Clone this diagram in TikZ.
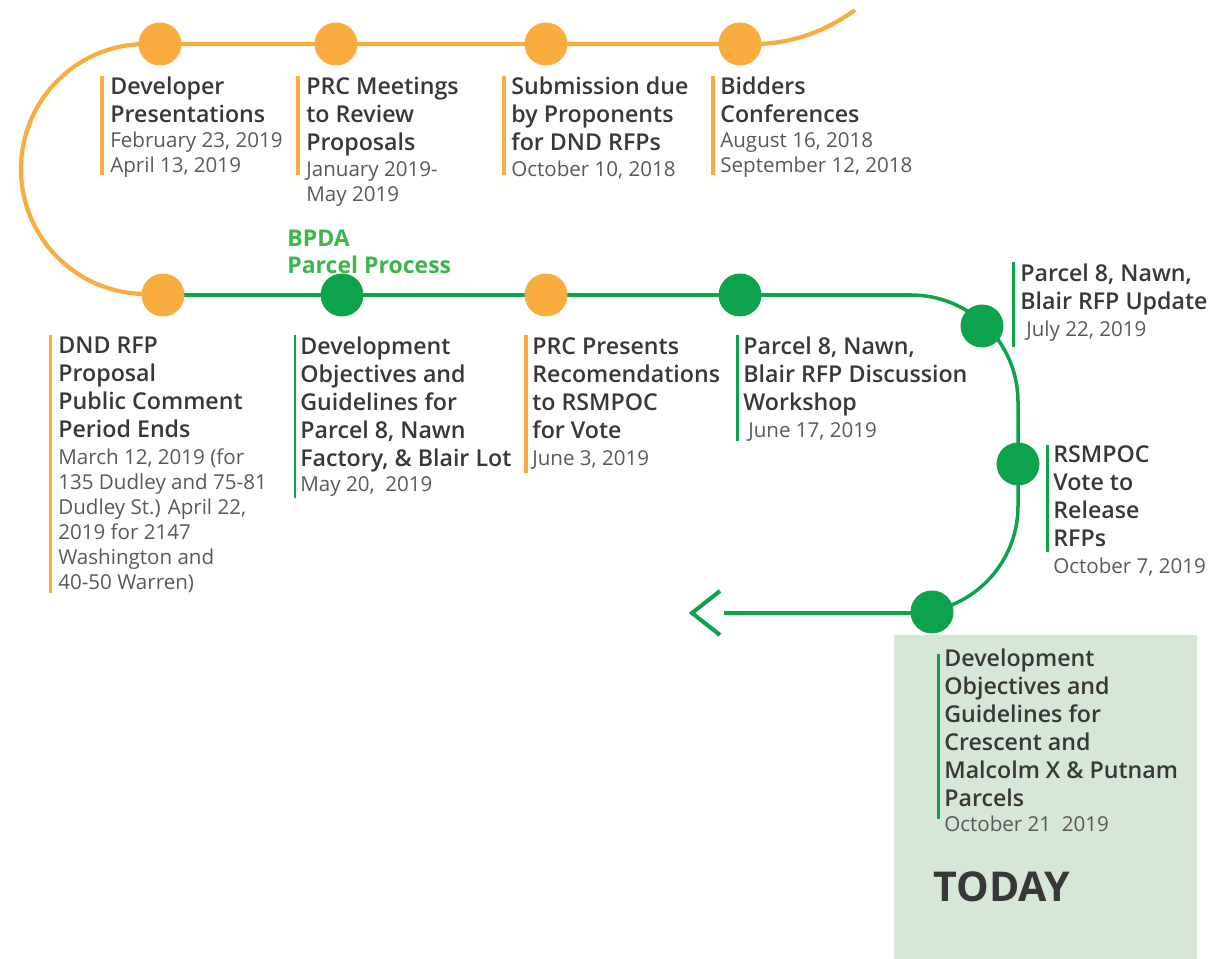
\documentclass[tikz,border=0pt]{standalone}
\usepackage{fontspec}
\setmainfont{Open Sans}
\IfFontExistsTF{Open Sans Semibold}{\newfontfamily\titlefont{Open Sans Semibold}}{%
  \IfFontExistsTF{Open Sans SemiBold}{\newfontfamily\titlefont{Open Sans SemiBold}}{\newcommand\titlefont{\bfseries}}}
\usetikzlibrary{arrows.meta, backgrounds}
\definecolor{parcelorange}{HTML}{F9AD3E}
\definecolor{parcelgreen}{HTML}{0DA24C}
\definecolor{labelgreen}{HTML}{3CB54A}
\definecolor{todaybox}{HTML}{D6E6D7}
\definecolor{titlegray}{HTML}{383838}
\definecolor{dategray}{HTML}{595959}
\tikzset{
  ostop/.style={circle, fill=parcelorange, minimum size=0.86cm, inner sep=0pt},
  gstop/.style={circle, fill=parcelgreen, minimum size=0.86cm, inner sep=0pt},
  oline/.style={parcelorange, line width=2.4pt},
  gline/.style={parcelgreen, line width=2pt},
  obar/.style={parcelorange, line width=2.2pt},
  gbar/.style={parcelgreen, line width=1.7pt},
  ttl/.style={anchor=north west, inner sep=0pt, align=left, text=titlegray,
    font=\titlefont\fontsize{13.2}{15.93}\selectfont},
  dte/.style={anchor=north west, inner sep=0pt, align=left, text=dategray,
    font=\fontsize{11.7}{14.23}\selectfont}
}
\begin{document}
\begin{tikzpicture}[x=0.02cm, y=-0.02cm]
    \useasboundingbox (0,0) rectangle (1210,959);

    \fill[todaybox] (894,635) rectangle (1197,959);

    % stops
    \node[ostop] (dev) at (160,44) {};
    \node[ostop] (prc) at (336,44) {};
    \node[ostop] (sub) at (546,44) {};
    \node[ostop] (bid) at (740,44) {};
    \node[ostop] (dnd) at (163,295) {};
    \node[gstop] (obj) at (342,295) {};
    \node[ostop] (rec) at (546,295) {};
    \node[gstop] (wrk) at (740,295) {};
    \node[gstop] (upd) at (982,326) {};
    \node[gstop] (vot) at (1018,464) {};
    \node[gstop] (tdy) at (932,612) {};

    \coordinate (otop) at (855,10);
    \coordinate (arrowend) at (724,613);

    \begin{scope}[on background layer]
        \draw[oline] (otop) .. controls (830,28) and (800,42) .. (760,44)
            -- (dev.center) -- (146,44) arc[start angle=270, end angle=90, radius=125]
            -- (dnd.center);
        \draw[gline] (dnd.center) -- (911,295)
            arc[start angle=270, end angle=360, radius=107] -- (1018,506)
            arc[start angle=0, end angle=90, radius=107] -- (arrowend);
    \end{scope}
    \draw[gline, line width=2.3pt] (720,591) -- (692,613) -- (720,635);

    % top row
    \draw[obar] (102,76) -- (102,175);
    \node[ttl] (devt) at (110,77) {Developer\\Presentations};
    \node[dte] (devd) at (110,132) {February 23, 2019\\April 13, 2019};

    \draw[obar] (298,76) -- (298,175);
    \node[ttl] (prct) at (306,77) {PRC Meetings\\to Review\\Proposals};
    \node[dte] (prcd) at (306,161) {January 2019-\\May 2019};

    \draw[obar] (504,76) -- (504,175);
    \node[ttl] (subt) at (511,77) {Submission due\\by Proponents\\for DND RFPs};
    \node[dte] (subd) at (511,161) {October 10, 2018};

    \draw[obar] (713,76) -- (713,175);
    \node[ttl] (bidt) at (720,77) {Bidders\\Conferences};
    \node[dte] (bidd) at (720,132) {August 16, 2018\\September 12, 2018};

    \node[anchor=north west, inner sep=0pt, align=left, text=labelgreen,
        font=\bfseries\fontsize{13.1}{15.4}\selectfont] (bpda) at (287,230) {BPDA\\Parcel Process};

    % bottom row
    \draw[obar] (50.5,335) -- (50.5,593);
    \node[ttl] (dndt) at (58,337) {DND RFP\\Proposal\\Public Comment\\Period Ends};
    \node[dte] (dndd) at (58,448) {March 12, 2019 (for\\135 Dudley and 75-81\\Dudley St.) April 22,\\2019 for 2147\\Washington and\\40-50 Warren)};

    \draw[gbar] (295,335) -- (295,498);
    \node[ttl] (objt) at (300,337) {Development\\Objectives and\\Guidelines for\\Parcel 8, Nawn\\Factory, \& Blair Lot};
    \node[dte] (objd) at (300,476) {May 20,~~2019};

    \draw[obar] (526,335) -- (526,473);
    \node[ttl] (rect) at (532,337) {PRC Presents\\Recomendations\\to RSMPOC\\for Vote};
    \node[dte] (recd) at (532,450) {June 3, 2019};

    \draw[gbar] (737,335) -- (737,441);
    \node[ttl] (wrkt) at (743,337) {Parcel 8, Nawn,\\Blair RFP Discussion\\Workshop};
    \node[dte] (wrkd) at (748,422) {June 17, 2019};

    % right side
    \draw[gbar] (1013,262) -- (1013,347);
    \node[ttl] (updt) at (1020,264) {Parcel 8, Nawn,\\Blair RFP Update};
    \node[dte] (updd) at (1026,321) {July 22, 2019};

    \draw[gbar] (1047,445) -- (1047,552);
    \node[ttl] (vott) at (1053,445) {RSMPOC\\Vote to\\Release\\RFPs};
    \node[dte] (votd) at (1053,558) {October 7, 2019};

    \draw[gbar] (938,654) -- (938,819);
    \node[ttl] (tdyt) at (944,649) {Development\\Objectives and\\Guidelines for\\Crescent and\\Malcolm X \& Putnam\\Parcels};
    \node[dte] (tdyd) at (944,816) {October 21~~2019};

    \node[anchor=base west, inner sep=0pt, text=titlegray,
        font=\bfseries\fontsize{23.4}{28}\selectfont] (today) at (933,901) {TODAY};
\end{tikzpicture}
\end{document}
